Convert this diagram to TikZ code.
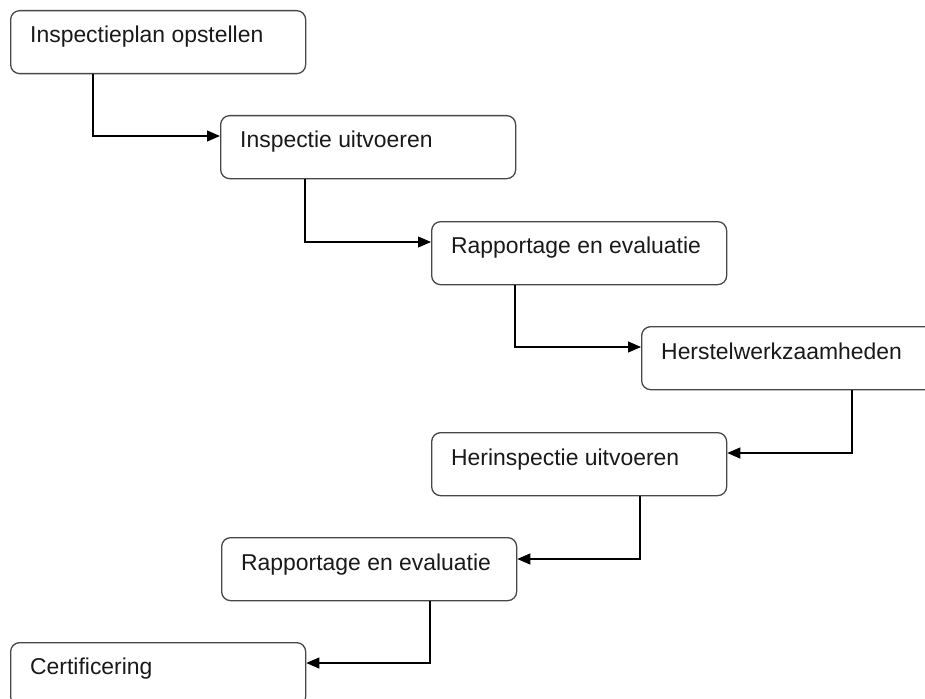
\documentclass[tikz,border=0pt]{standalone}
\usepackage{fontspec}
\setmainfont{Liberation Sans}
\usetikzlibrary{arrows.meta}
\begin{document}
\begin{tikzpicture}[x=1bp,y=-1bp,
  box/.style={draw=black!72, line width=1.3bp, rounded corners=9bp, fill=white,
    minimum width=295bp, minimum height=63bp, anchor=north west, inner sep=0pt},
  lab/.style={font=\fontsize{23}{27}\selectfont, text=black!90, anchor=base west, inner sep=0pt},
  arr/.style={draw=black, line width=1.1bp, -{Triangle[length=13bp,width=11bp]}}]
\useasboundingbox (0,0) rectangle (925,699);
\node[box] (b1) at (10,10) {};
\node[box] (b2) at (220,115) {};
\node[box] (b3) at (431,221) {};
\node[box] (b4) at (641,326) {};
\node[box] (b5) at (431,432) {};
\node[box] (b6) at (221,537) {};
\node[box] (b7) at (10,642) {};
\node[lab] (t1) at ([shift={(20,33)}]b1.north west) {Inspectieplan opstellen};
\node[lab] (t2) at ([shift={(20,33)}]b2.north west) {Inspectie uitvoeren};
\node[lab] (t3) at ([shift={(20,32)}]b3.north west) {Rapportage en evaluatie};
\node[lab] (t4) at ([shift={(20,33)}]b4.north west) {Herstelwerkzaamheden};
\node[lab] (t5) at ([shift={(20,33)}]b5.north west) {Herinspectie uitvoeren};
\node[lab] (t6) at ([shift={(20,33)}]b6.north west) {Rapportage en evaluatie};
\node[lab] (t7) at ([shift={(20,32)}]b7.north west) {Certificering};
\draw[arr] (93,0 |- b1.south) |- (b2.west |- 0,136);
\draw[arr] (305,0 |- b2.south) |- (b3.west |- 0,242);
\draw[arr] (515,0 |- b3.south) |- (b4.west |- 0,347);
\draw[arr] (852,0 |- b4.south) |- (b5.east |- 0,453);
\draw[arr] (640,0 |- b5.south) |- (b6.east |- 0,559);
\draw[arr] (430,0 |- b6.south) |- (b7.east |- 0,663);
\end{tikzpicture}
\end{document}
